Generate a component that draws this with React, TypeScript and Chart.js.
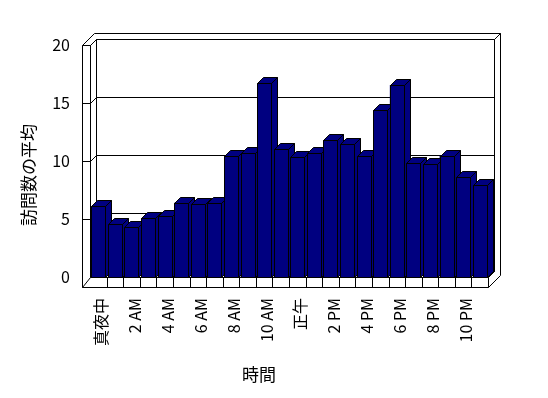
import React, { useEffect, useRef } from 'react';
import { Chart, registerables } from 'chart.js';

Chart.register(...registerables);

// ---- data ----
const hours = [
  '真夜中', '1 AM', '2 AM', '3 AM', '4 AM', '5 AM', '6 AM', '7 AM', '8 AM', '9 AM', '10 AM', '11 AM',
  '正午', '1 PM', '2 PM', '3 PM', '4 PM', '5 PM', '6 PM', '7 PM', '8 PM', '9 PM', '10 PM', '11 PM',
];
const avgVisits = [
  6.1, 4.55, 4.3, 5.05, 5.3, 6.4, 6.3, 6.4, 10.4, 10.65, 16.7, 11.0,
  10.35, 10.65, 11.8, 11.45, 10.45, 14.4, 16.55, 9.8, 9.7, 10.45, 8.6, 7.95,
];
const yMin = 0;
const yMax = 20;
const yStep = 5;
const yTitle = '訪問数の平均';
const xTitle = '時間';

// ---- style ----
const FONT = '"Noto Sans CJK JP", "Noto Sans", sans-serif';
const BAR = '#000080';
const DX = 6;
const DY = -6;
const WALL_W = 8;
const FLOOR_H = 10;

const px = (v: number) => Math.round(v) + 0.5;

function poly(ctx: CanvasRenderingContext2D, pts: number[][], fill?: string) {
  ctx.beginPath();
  pts.forEach(([x, y], i) => (i === 0 ? ctx.moveTo(px(x), px(y)) : ctx.lineTo(px(x), px(y))));
  if (fill) {
    ctx.closePath();
    ctx.fillStyle = fill;
    ctx.fill();
  }
  ctx.stroke();
}

const walls3d = {
  id: 'walls3d',
  beforeDatasetsDraw(chart: any) {
    const { ctx, chartArea: a, scales } = chart;
    const ys = scales.y;
    const xs = scales.x;
    const L = Math.round(a.left), R = Math.round(a.right), T = Math.round(a.top), B = Math.round(a.bottom);
    const W = WALL_W, H = FLOOR_H;
    ctx.save();
    ctx.strokeStyle = '#000';
    ctx.lineWidth = 1;
    // back wall + floor top + left wall inner (white)
    poly(ctx, [[L, B], [L, T], [L + DX, T + DY], [R + DX, T + DY], [R + DX, B + DY], [R, B]], '#fff');
    // left wall front face
    poly(ctx, [[L - W, T], [L, T], [L, B + H], [L - W, B + H]], '#fff');
    // top of walls
    poly(ctx, [[L - W, T], [L - W + 2 * DX, T + 2 * DY], [R + 2 * DX, T + 2 * DY], [R + DX, T + DY], [L + DX, T + DY], [L, T]], '#fff');
    // right side of back wall / floor
    poly(ctx, [[R + DX, T + DY], [R + 2 * DX, T + 2 * DY], [R + 2 * DX, B + H + 2 * DY], [R, B + H], [R, B], [R + DX, B + DY]], '#fff');
    // inner edges
    poly(ctx, [[L, T], [L + DX, T + DY], [L + DX, B + DY]]);
    poly(ctx, [[L, B], [L + DX, B + DY], [R + DX, B + DY]]);
    poly(ctx, [[R + DX, T + DY], [R + DX, B + DY], [R, B]]);
    // gridlines
    for (let v = yMin + yStep; v < yMax; v += yStep) {
      const yf = ys.getPixelForValue(v);
      poly(ctx, [[L - W, yf], [L, yf], [L + DX, yf + DY], [R + DX, yf + DY]]);
    }
    // floor front face with category boundaries
    poly(ctx, [[L - W, B + H], [R, B + H], [R, B], [L, B]], '#fff');
    for (let i = 1; i < hours.length; i++) {
      const xb = (xs.getPixelForValue(i - 1) + xs.getPixelForValue(i)) / 2;
      poly(ctx, [[xb, B], [xb, B + H]]);
    }
    ctx.restore();
  },
  afterDatasetsDraw(chart: any) {
    const { ctx } = chart;
    const meta = chart.getDatasetMeta(0);
    ctx.save();
    ctx.strokeStyle = '#000';
    ctx.lineWidth = 1;
    meta.data.forEach((bar: any) => {
      const { x, y, base, width } = bar.getProps(['x', 'y', 'base', 'width'], true);
      const l = Math.round(x - width / 2);
      const r = Math.round(x + width / 2);
      const t = Math.round(y);
      const b = Math.round(base);
      poly(ctx, [[r, t], [r + DX, t + DY], [r + DX, b + DY], [r, b]], BAR);
      poly(ctx, [[l, t], [l + DX, t + DY], [r + DX, t + DY], [r, t]], BAR);
      poly(ctx, [[l, b], [l, t], [r, t], [r, b]], BAR);
    });
    ctx.restore();
  },
  afterDraw(chart: any) {
    const { ctx, chartArea: a } = chart;
    ctx.save();
    ctx.fillStyle = '#000';
    ctx.font = `17px ${FONT}`;
    ctx.textAlign = 'center';
    ctx.textBaseline = 'middle';
    ctx.fillText(xTitle, (a.left + a.right) / 2 - 30, a.bottom + 98);
    ctx.translate(29, (a.top + a.bottom) / 2 + 14);
    ctx.rotate(-Math.PI / 2);
    ctx.fillText(yTitle, 0, 0);
    ctx.restore();
  },
};

export default function App() {
  const ref = useRef<HTMLCanvasElement | null>(null);
  useEffect(() => {
    if (!ref.current) return;
    const chart = new Chart(ref.current, {
      type: 'bar',
      data: {
        labels: hours,
        datasets: [
          {
            data: avgVisits,
            backgroundColor: BAR,
            borderWidth: 0,
            barPercentage: 0.84,
            categoryPercentage: 1,
          },
        ],
      },
      options: {
        responsive: false,
        animation: false,
        events: [],
        layout: { padding: { left: 0, right: 60, top: 45, bottom: 0 } },
        plugins: { legend: { display: false }, tooltip: { enabled: false } },
        scales: {
          x: {
            offset: true,
            grid: { display: false, drawTicks: false },
            border: { display: false },
            afterFit: (s: any) => { s.height = 121; },
            ticks: {
              autoSkip: false,
              minRotation: 90,
              maxRotation: 90,
              padding: 21,
              labelOffset: 3,
              color: '#000',
              font: { family: FONT, size: 16 },
              callback: (_v: any, i: number) => (i % 2 === 0 ? hours[i] : ''),
            },
          },
          y: {
            min: yMin,
            max: yMax,
            grid: { display: false, drawTicks: false },
            border: { display: false },
            afterFit: (s: any) => { s.width = 90; },
            ticks: {
              stepSize: yStep,
              padding: 20,
              color: '#000',
              font: { family: FONT, size: 16 },
            },
          },
        },
      },
      plugins: [walls3d],
    });
    return () => chart.destroy();
  }, []);
  return (
    <div style={{ position: 'fixed', left: 0, top: 0, width: 548, height: 398, background: '#fff' }}>
      <canvas ref={ref} width={548} height={398} style={{ display: 'block' }} />
    </div>
  );
}
